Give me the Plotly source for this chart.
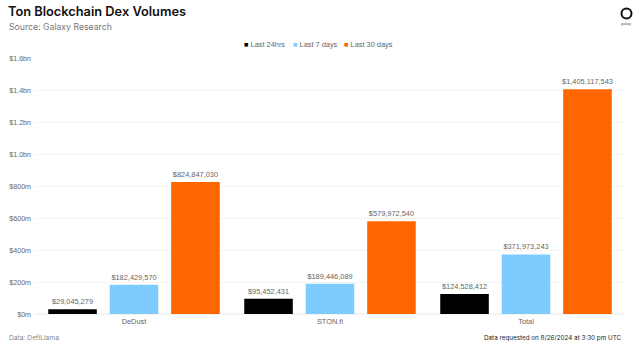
import plotly.graph_objects as go

W, H = 639, 351
categories = ["DeDust", "STON.fi", "Total"]
last_24h = [29045279, 95452431, 124528412]
last_7d = [182429570, 189446089, 371973243]
last_30d = [824847030, 579972540, 1405117543]
series_names = ["Last 24hrs", "Last 7 days", "Last 30 days"]
colors = ["#000000", "#7DCBFF", "#FF6600"]
tick_vals = [0, 2e8, 4e8, 6e8, 8e8, 1e9, 1.2e9, 1.4e9, 1.6e9]
tick_text = ["$0m", "$200m", "$400m", "$600m", "$800m", "$1.0bn", "$1.2bn", "$1.4bn", "$1.6bn"]

GREY = "#666666"
fig = go.Figure()
for name, vals, col in zip(series_names, [last_24h, last_7d, last_30d], colors):
    fig.add_bar(
        name=name, x=categories, y=vals, marker=dict(color=col, line=dict(width=0)),
        text=[f"${v:,.0f}" for v in vals], textposition="outside", cliponaxis=False,
        textangle=0, constraintext="none",
        textfont=dict(family="Liberation Sans", size=7.4, color=GREY),
    )

L, R, T, B = 36, 624, 58, 314
PW, PH = R - L, B - T
def px(x): return (x - L) / PW
def py(y): return (B - y) / PH

def note(text, x, y, anchor, font, size, color):
    return dict(text=text, xref="paper", yref="paper", x=px(x), y=py(y), xanchor=anchor, yanchor="middle",
                showarrow=False, borderpad=0, font=dict(family=font, size=size, color=color))

legend_notes = [
    note(f'<span style="color:{c}">■</span> {n}', x, 44, "left", "Liberation Sans", 7.4, GREY)
    for n, c, x in zip(series_names, colors, [243, 292, 343])
]

fig.update_layout(
    width=W, height=H, autosize=False, paper_bgcolor="white", plot_bgcolor="white",
    margin=dict(l=L, r=W - R, t=T, b=H - B),
    barmode="group", bargap=0.059, bargroupgap=0.21,
    font=dict(family="Liberation Sans", size=7.4, color=GREY),
    showlegend=False,
    xaxis=dict(showgrid=False, showline=False, ticks="", ticklabelstandoff=2, tickfont=dict(size=7.4, color=GREY)),
    yaxis=dict(range=[0, 1.6e9], tickvals=tick_vals, ticktext=tick_text, gridcolor="#f4f4f4", gridwidth=1,
               zeroline=True, zerolinecolor="#f4f4f4", showline=False, ticks="", ticklabelstandoff=4,
               tickfont=dict(size=7.1, color=GREY), automargin=False),
    title=dict(text="Ton Blockchain Dex Volumes", x=8 / W, xanchor="left", xref="container",
               y=1 - 12 / H, yanchor="middle", yref="container",
               font=dict(family="Inter", size=12.8, color="#111111", weight=600)),
    annotations=legend_notes + [
        note("Source: Galaxy Research", 8, 27, "left", "Inter", 8.7, "#777777"),
        note("Data: DefiLlama", 8, 338, "left", "Inter", 6.7, "#888888"),
        note("Data requested on 8/26/2024 at 3:30 pm UTC", 623, 338, "right", "Inter", 6.3, "#222222"),
        note("galaxy", 626, 23.5, "center", "Liberation Sans", 3.5, "#555555"),
    ],
    shapes=[
        dict(type="circle", xref="paper", yref="paper", x0=px(621.5), x1=px(631.5),
             y0=py(18.5), y1=py(8.5), line=dict(color="#111111", width=2), fillcolor="white"),
    ],
)
fig.write_html("out.html", config={"displayModeBar": False},
               post_script="document.body.style.margin='0';document.documentElement.style.overflow='hidden';")
